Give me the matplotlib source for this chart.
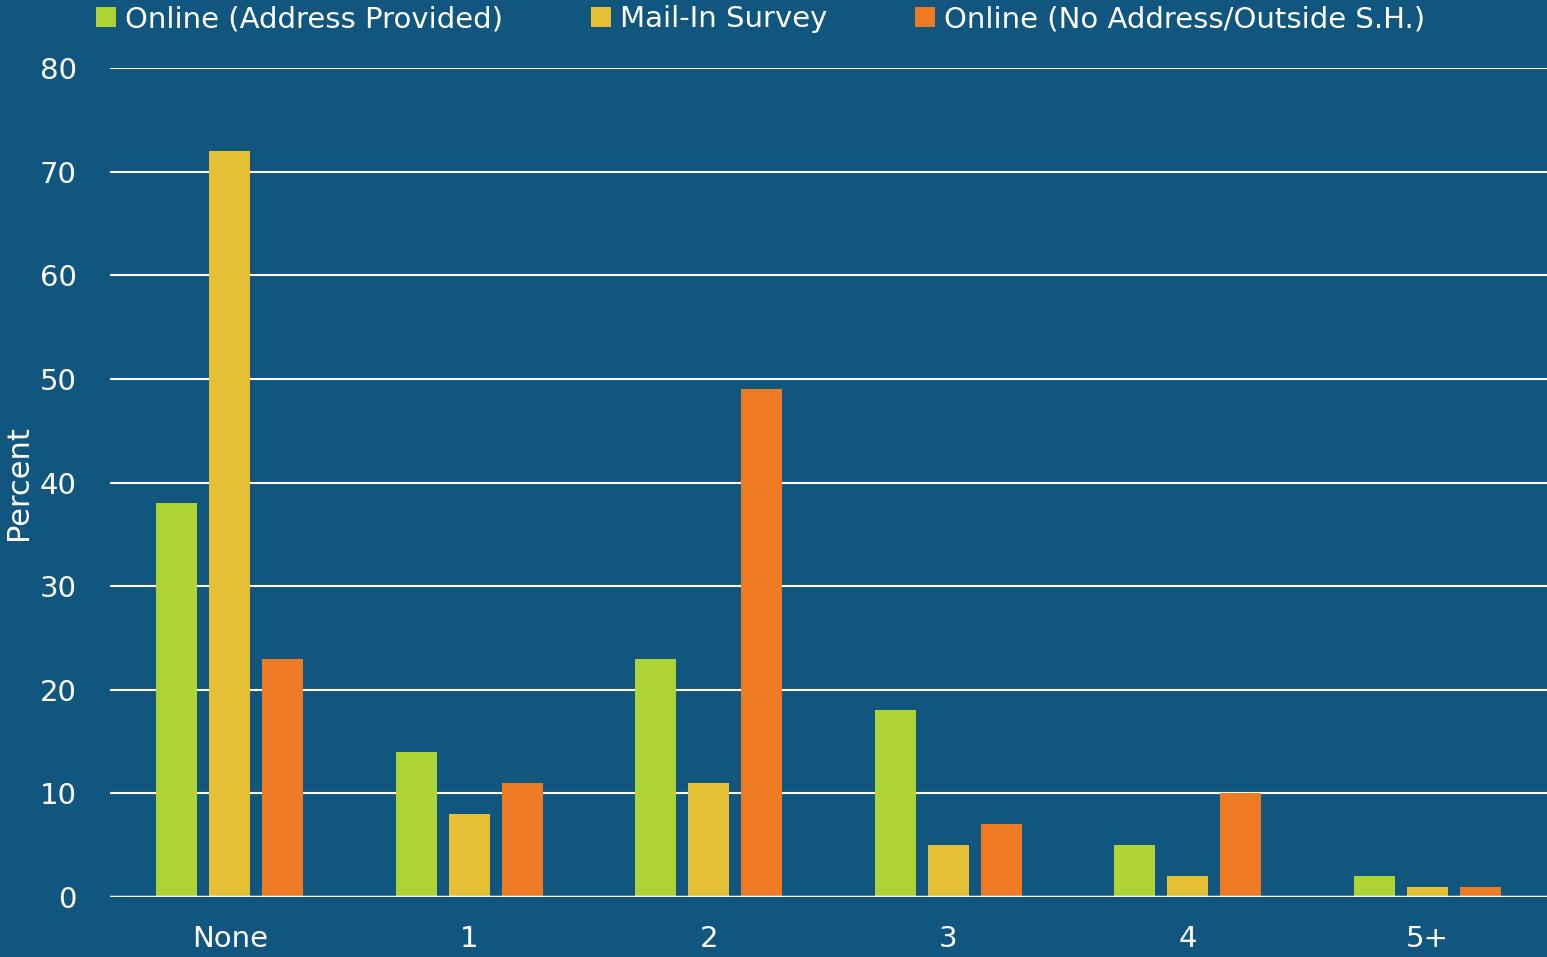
import matplotlib.pyplot as plt
import numpy as np

categories = ['None', '1', '2', '3', '4', '5+']
online_addr = [38, 14, 23, 18, 5, 2]
mail_in = [72, 8, 11, 5, 2, 1]
online_no_addr = [23, 11, 49, 7, 10, 1]
series_names = ['Online (Address Provided)', 'Mail-In Survey', 'Online (No Address/Outside S.H.)']

bg = '#10567f'
colors = ['#add432', '#e6c034', '#ee7b24']

plt.rcParams['font.family'] = ['DejaVu Sans']

fig = plt.figure(figsize=(15.47, 9.57), dpi=100, facecolor=bg)
ax = fig.add_axes([0.0711, 0.0627, 0.9289, 0.8662], facecolor=bg)

x = np.arange(len(categories))
w = 0.171
off = 0.221
for i, (vals, c, name) in enumerate(zip([online_addr, mail_in, online_no_addr], colors, series_names)):
    ax.bar(x + (i - 1) * off, vals, w, color=c, label=name, zorder=3)

ax.set_xlim(-0.5, 5.5)
ax.set_ylim(0, 80)
ax.set_yticks(range(0, 81, 10))
ax.set_xticks(x)
ax.set_xticklabels(categories)
ax.grid(axis='y', color='white', linewidth=1.5, zorder=0)
ax.axhline(0, color='white', linewidth=2.5, zorder=4)
for s in ax.spines.values():
    s.set_visible(False)
ax.tick_params(colors='white', labelsize=21, length=0)
ax.tick_params(axis='y', pad=24)
ax.tick_params(axis='x', pad=20)
ax.set_ylabel('Percent', color='white', fontsize=22, va='center')
ax.yaxis.set_label_coords(-0.064, 0.5)

leg = fig.legend(loc='upper left', bbox_to_anchor=(0.045, 1.022), ncol=3, frameon=False,
                 fontsize=21, labelcolor='white', handlelength=0.7, handleheight=0.7,
                 handletextpad=0.3, columnspacing=3.0)

fig.savefig('out.png', dpi=100, facecolor=bg)
